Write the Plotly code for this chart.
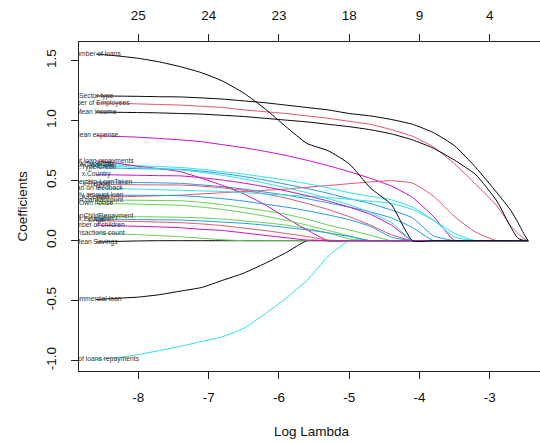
import plotly.graph_objects as go

# ---------------- data ----------------
log_lambda = [-8.6, -8.3, -8.0, -7.7, -7.4, -7.1, -6.8, -6.5, -6.2, -5.9, -5.6, -5.3,
              -5.0, -4.7, -4.4, -4.1, -3.8, -3.5, -3.2, -2.9, -2.7, -2.6, -2.5, -2.455]

sector_type = [1.206, 1.205, 1.203, 1.200, 1.198, 1.190, 1.180, 1.165, 1.150, 1.130, 1.110, 1.090,
               1.060, 1.040, 1.010, 0.970, 0.900, 0.790, 0.610, 0.400, 0.250, 0.150, 0.040, 0.000]
number_of_employees = [1.147, 1.145, 1.140, 1.135, 1.130, 1.120, 1.110, 1.090, 1.075, 1.060, 1.040, 1.020,
                       0.995, 0.970, 0.925, 0.870, 0.780, 0.640, 0.470, 0.290, 0.120, 0.060, 0.010, 0.000]
own_bank_account = [0.340, 0.338, 0.337, 0.335, 0.333, 0.320, 0.300, 0.275, 0.250, 0.220, 0.180, 0.130,
                    0.090, 0.045, 0, 0, 0, 0, 0, 0, 0, 0, 0, 0]
type_credit = [0.610, 0.605, 0.600, 0.598, 0.595, 0.580, 0.560, 0.535, 0.505, 0.470, 0.435, 0.395,
               0.350, 0.310, 0.255, 0.190, 0.040, 0, 0, 0, 0, 0, 0, 0]
amount_of_loans_repayments = [-0.990, -0.975, -0.950, -0.915, -0.880, -0.840, -0.800, -0.730, -0.610, -0.480, -0.330, -0.130,
                              0, 0, 0, 0, 0, 0, 0, 0, 0, 0, 0, 0]
mean_expense = [0.875, 0.870, 0.862, 0.852, 0.840, 0.825, 0.800, 0.775, 0.745, 0.710, 0.670, 0.625,
                0.575, 0.520, 0.455, 0.360, 0.200, 0, 0, 0, 0, 0, 0, 0]
mean_income = [1.072, 1.070, 1.068, 1.065, 1.060, 1.055, 1.045, 1.035, 1.020, 1.005, 0.990, 0.970,
               0.950, 0.925, 0.890, 0.840, 0.770, 0.670, 0.550, 0.330, 0.110, 0.020, 0, 0]
gender = [0.360, 0.365, 0.370, 0.375, 0.380, 0.390, 0.400, 0.410, 0.420, 0.430, 0.445, 0.460,
          0.475, 0.490, 0.500, 0.480, 0.370, 0.200, 0.070, 0, 0, 0, 0, 0]
loan_on_child_repayment = [0.205, 0.202, 0.200, 0.198, 0.195, 0.190, 0.180, 0.165, 0.150, 0.130, 0.100, 0.065,
                           0.015, 0, 0, 0, 0, 0, 0, 0, 0, 0, 0, 0]
membership_loan_taken = [0.490, 0.488, 0.485, 0.482, 0.478, 0.465, 0.450, 0.430, 0.405, 0.380, 0.350, 0.315,
                         0.280, 0.240, 0.190, 0.110, 0, 0, 0, 0, 0, 0, 0, 0]
type_db = [0.640, 0.632, 0.625, 0.618, 0.610, 0.595, 0.575, 0.555, 0.530, 0.505, 0.475, 0.440,
           0.400, 0.370, 0.340, 0.280, 0.170, 0.030, 0, 0, 0, 0, 0, 0]
amount_loan_repayments = [0.665, 0.645, 0.620, 0.600, 0.575, 0.520, 0.460, 0.390, 0.300, 0.190, 0.090, 0,
                          0, 0, 0, 0, 0, 0, 0, 0, 0, 0, 0, 0]
mean_savings = [-0.012, -0.006, -0.002, 0, 0, 0, 0, 0, 0, 0, 0, 0,
                0, 0, 0, 0, 0, 0, 0, 0, 0, 0, 0, 0]
region = [0.470, 0.468, 0.466, 0.465, 0.464, 0.455, 0.440, 0.420, 0.390, 0.355, 0.310, 0.260,
          0.200, 0.130, 0.050, 0, 0, 0, 0, 0, 0, 0, 0, 0]
own_house = [0.310, 0.308, 0.305, 0.300, 0.295, 0.280, 0.260, 0.235, 0.205, 0.170, 0.130, 0.085,
             0.040, 0, 0, 0, 0, 0, 0, 0, 0, 0, 0, 0]
daily_amount_loan = [0.380, 0.379, 0.378, 0.377, 0.375, 0.365, 0.350, 0.330, 0.305, 0.280, 0.250, 0.215,
                     0.175, 0.120, 0.030, 0, 0, 0, 0, 0, 0, 0, 0, 0]
loan_on_feedback = [0.440, 0.435, 0.430, 0.425, 0.420, 0.415, 0.410, 0.400, 0.390, 0.380, 0.370, 0.360,
                    0.345, 0.330, 0.310, 0.260, 0.170, 0.060, 0, 0, 0, 0, 0, 0]
country = [0.550, 0.548, 0.545, 0.542, 0.540, 0.525, 0.505, 0.480, 0.450, 0.415, 0.375, 0.330,
           0.280, 0.220, 0.130, 0, 0, 0, 0, 0, 0, 0, 0, 0]
commercial_loan = [-0.490, -0.480, -0.470, -0.450, -0.420, -0.390, -0.330, -0.270, -0.190, -0.100, 0, 0,
                   0, 0, 0, 0, 0, 0, 0, 0, 0, 0, 0, 0]
age = [0.167, 0.163, 0.160, 0.155, 0.150, 0.140, 0.125, 0.105, 0.085, 0.060, 0.035, 0.005,
       0, 0, 0, 0, 0, 0, 0, 0, 0, 0, 0, 0]
transactions_count = [0.064, 0.058, 0.050, 0.042, 0.033, 0.020, 0.008, 0, 0, 0, 0, 0,
                      0, 0, 0, 0, 0, 0, 0, 0, 0, 0, 0, 0]
education = [0.180, 0.178, 0.176, 0.174, 0.172, 0.165, 0.155, 0.145, 0.130, 0.110, 0.090, 0.065,
             0.035, 0, 0, 0, 0, 0, 0, 0, 0, 0, 0, 0]
credit_db = [0.630, 0.620, 0.610, 0.600, 0.590, 0.570, 0.545, 0.515, 0.480, 0.440, 0.400, 0.350,
             0.300, 0.235, 0.150, 0, 0, 0, 0, 0, 0, 0, 0, 0]
number_of_children = [0.130, 0.125, 0.120, 0.115, 0.108, 0.095, 0.085, 0.065, 0.045, 0.025, 0.005, 0,
                      0, 0, 0, 0, 0, 0, 0, 0, 0, 0, 0, 0]
number_of_loans = [1.556, 1.540, 1.520, 1.490, 1.450, 1.400, 1.330, 1.230, 1.100, 0.950, 0.810, 0.750,
                   0.640, 0.440, 0.300, 0, 0, 0, 0, 0, 0, 0, 0, 0]

var_names = ["Sector type", "Number of Employees", "Own bankaccount", "x.Type.Credit",
             "Amount of loans repayments", "Mean expense", "Mean income", "x.Gender",
             "Loan onChildRepayment", "Membership LoanTaken", "x.Type.DB", "Amount loan repayments",
             "Mean Savings", "x.Region", "Own house", "Daily amount loan", "Loan on feedback",
             "x.Country", "Commercial loan", "x.Age", "Transactions count", "x.Education",
             "x.Credit.DB", "Number of children", "Number of loans"]
var_coefs = [sector_type, number_of_employees, own_bank_account, type_credit,
             amount_of_loans_repayments, mean_expense, mean_income, gender,
             loan_on_child_repayment, membership_loan_taken, type_db, amount_loan_repayments,
             mean_savings, region, own_house, daily_amount_loan, loan_on_feedback,
             country, commercial_loan, age, transactions_count, education,
             credit_db, number_of_children, number_of_loans]

top_tick_vals = [-8, -7, -6, -5, -4, -3]
top_tick_text = ["25", "24", "23", "18", "9", "4"]
y_tick_vals = [-1.0, -0.5, 0.0, 0.5, 1.0, 1.5]
y_tick_text = ["-1.0", "-0.5", "0.0", "0.5", "1.0", "1.5"]

# ---------------- styling ----------------
palette = ["#000000", "#DF536B", "#61D04F", "#2297E6", "#28E2E5", "#CD0BBC"]
FONT = "Liberation Sans, Arial, sans-serif"
AX = "#222222"

fig = go.Figure()
for i, vals in enumerate(var_coefs):
    fig.add_trace(go.Scatter(x=log_lambda, y=vals, mode="lines",
                             line=dict(color=palette[i % 6], width=1, shape="spline", smoothing=0.5),
                             hoverinfo="skip", showlegend=False))

fig.add_trace(go.Scatter(x=[log_lambda[0]] * len(var_names),
                         y=[v[0] for v in var_coefs],
                         mode="text", text=var_names, textposition="middle center",
                         textfont=dict(family=FONT, size=6.75, color="#333333"),
                         hoverinfo="skip", showlegend=False))

fig.add_trace(go.Scatter(x=top_tick_vals, y=[0] * len(top_tick_vals), xaxis="x2",
                         mode="markers", marker=dict(opacity=0), hoverinfo="skip",
                         showlegend=False))

xr = [-8.844, -2.287]
common = dict(showgrid=False, zeroline=False, showline=True, linecolor=AX, linewidth=1,
              ticks="outside", ticklen=7, tickcolor=AX, tickwidth=1, automargin=False,
              tickfont=dict(family=FONT, size=13.5, color="#111111"))

fig.update_layout(
    width=540, height=443,
    margin=dict(l=79, r=0, t=42, b=72, autoexpand=False),
    plot_bgcolor="white", paper_bgcolor="white",
    showlegend=False, hovermode=False,
    xaxis=dict(range=xr, tickmode="array", tickvals=top_tick_vals,
               ticktext=[str(v) for v in top_tick_vals], ticklabelstandoff=7, **common),
    xaxis2=dict(range=xr, overlaying="x", side="top", tickmode="array",
                tickvals=top_tick_vals, ticktext=top_tick_text, ticklabelstandoff=9, **common),
    yaxis=dict(range=[-1.086, 1.656], tickmode="array", tickvals=y_tick_vals,
               ticktext=y_tick_text, tickangle=-90, ticklabelstandoff=10, **common),
    annotations=[
        dict(text="Log Lambda", xref="paper", yref="paper", x=(312 - 79) / 461,
             y=(371 - 431.7) / 329, showarrow=False, xanchor="center", yanchor="middle",
             font=dict(family=FONT, size=13.5, color="#111111")),
        dict(text="Coefficients", xref="paper", yref="paper", x=(22 - 79) / 461,
             y=0.5, showarrow=False, xanchor="center", yanchor="middle", textangle=-90,
             font=dict(family=FONT, size=13.5, color="#111111")),
    ],
)

fig.write_html("out.html", config={"displayModeBar": False, "staticPlot": True},
               post_script="document.body.style.margin='0px';document.body.style.overflow='hidden';")
